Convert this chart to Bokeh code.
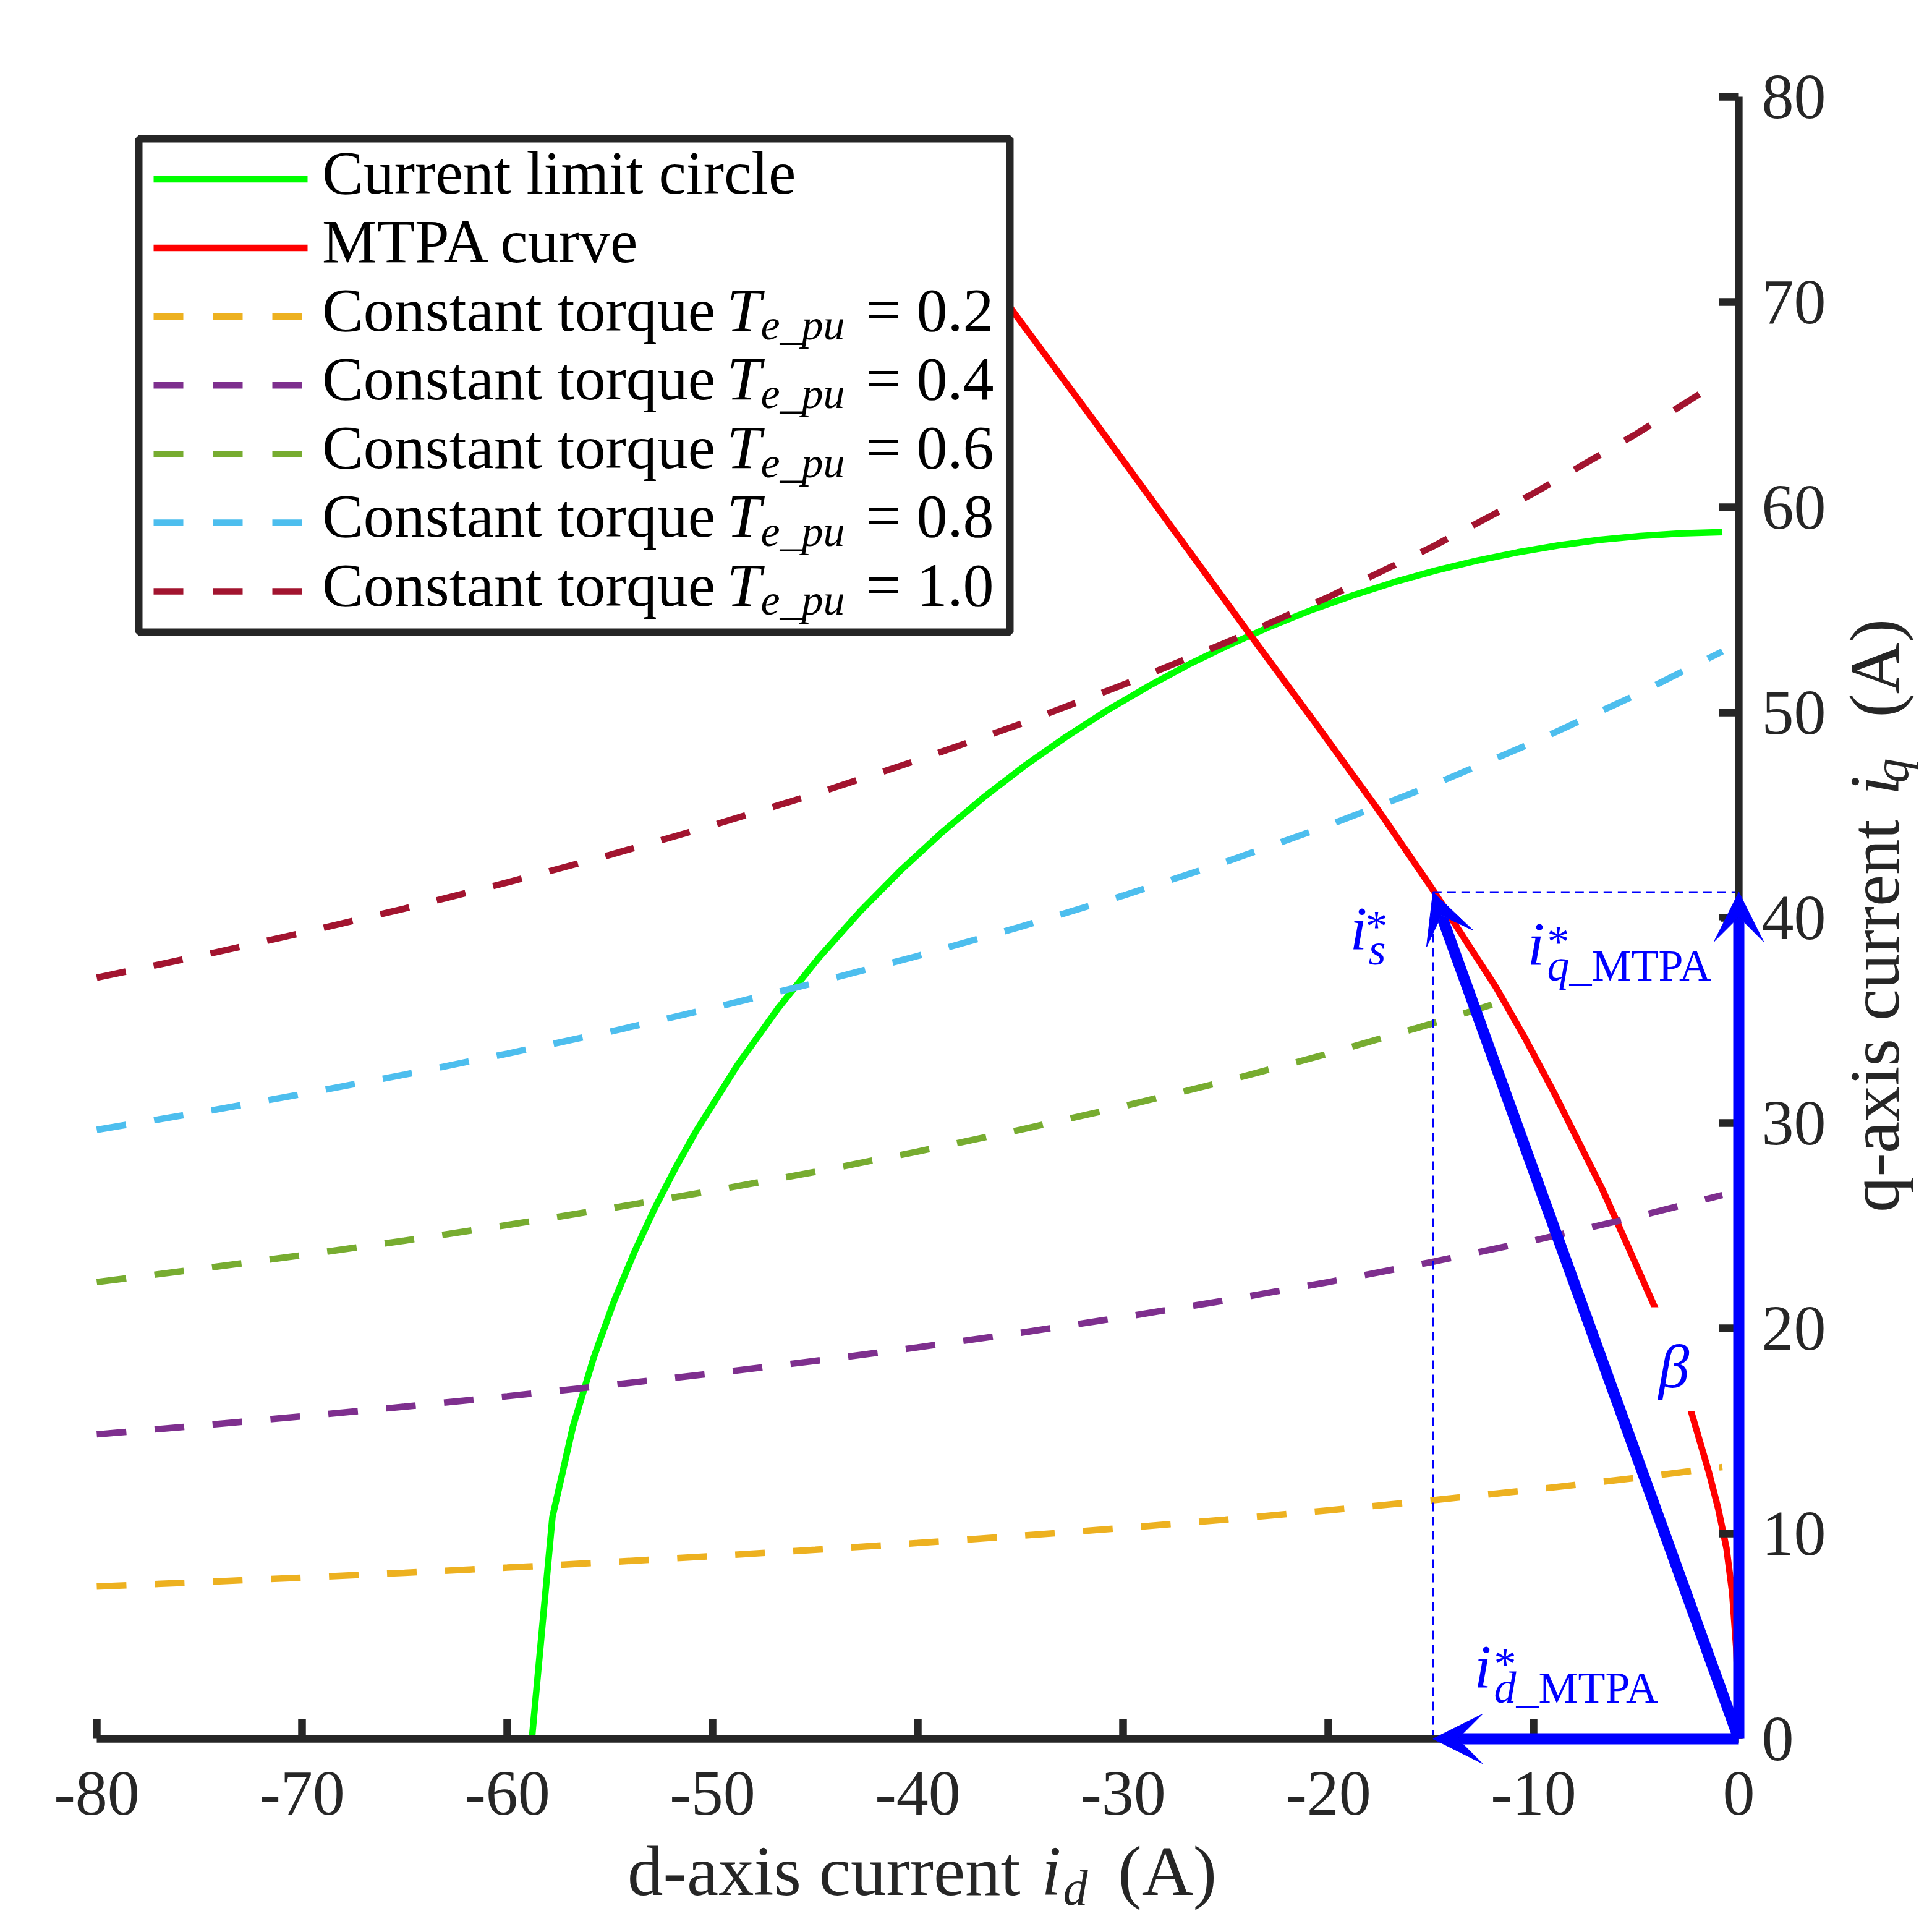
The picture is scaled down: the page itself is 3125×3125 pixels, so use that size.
import numpy as np
from bokeh.plotting import figure
from bokeh.models import (Range1d, FixedTicker, Label, BoxAnnotation, Arrow, VeeHead,
                          CustomJSTickFormatter)
from bokeh.embed import file_html
from bokeh.resources import INLINE

# ---------------- data ----------------
circle_id = [-58.8, -57.8, -56.8, -55.8, -54.8, -53.8, -52.8, -51.8, -50.8, -48.8, -46.8,
             -44.8, -42.8, -40.8, -38.8, -36.8, -34.8, -32.8, -30.8, -28.8, -26.8, -24.8,
             -22.8, -20.8, -18.8, -16.8, -14.8, -12.8, -10.8, -8.8, -6.8, -4.8, -2.8, -0.8]
circle_iq = [0.0, 10.80, 15.21, 18.54, 21.32, 23.73, 25.88, 27.82, 29.61, 32.80, 35.60,
             38.08, 40.32, 42.34, 44.18, 45.86, 47.40, 48.80, 50.09, 51.26, 52.34, 53.31,
             54.20, 55.00, 55.71, 56.35, 56.91, 57.39, 57.80, 58.14, 58.41, 58.60, 58.73, 58.79]

mtpa_id = [0.0, -0.03, -0.13, -0.32, -0.60, -1.00, -1.45, -2.35, -3.18, -4.06, -5.36, -6.66,
           -7.81, -8.96, -10.45, -11.84, -13.38, -14.92, -17.60, -20.68, -23.86, -27.44,
           -31.40, -35.30, -39.50]
mtpa_iq = [0.0, 2.0, 4.5, 7.12, 9.28, 11.2, 12.96, 16.04, 18.4, 20.95, 23.9, 26.8,
           29.1, 31.4, 34.2, 36.63, 39.0, 41.39, 45.3, 49.55, 53.86, 58.77,
           64.2, 69.46, 75.3]

torque_id = [-80, -75, -70, -65, -60, -55, -50, -45, -40, -35, -30, -25, -20, -15, -10, -5, -0.8]
torque_02 = [7.42, 7.63, 7.85, 8.09, 8.34, 8.61, 8.90, 9.21, 9.54, 9.89, 10.27, 10.68, 11.13, 11.61, 12.14, 12.71, 13.24]
torque_04 = [14.83, 15.26, 15.71, 16.18, 16.69, 17.23, 17.80, 18.41, 19.07, 19.78, 20.54, 21.36, 22.25, 23.22, 24.27, 25.43, 26.49]
torque_06 = [22.25, 22.89, 23.56, 24.27, 25.03, 25.84, 26.70, 27.62, 28.61, 29.67, 30.81, 32.04, 33.38, 34.83, 36.41, 38.14, 39.73]
torque_08 = [29.67, 30.51, 31.41, 32.36, 33.38, 34.45, 35.60, 36.83, 38.14, 39.56, 41.08, 42.72, 44.50, 46.43, 48.55, 50.86, 52.98]
torque_10 = [37.08, 38.14, 39.26, 40.45, 41.72, 43.06, 44.50, 46.03, 47.68, 49.44, 51.35, 53.40, 55.62, 58.04, 60.68, 63.57, 66.22]
torque_levels = ["0.2", "0.4", "0.6", "0.8", "1.0"]

id_star = -14.9   # i_d* MTPA
iq_star = 41.25   # i_q* MTPA

x_ticks = [-80, -70, -60, -50, -40, -30, -20, -10, 0]
x_tick_labels = ["-80", "-70", "-60", "-50", "-40", "-30", "-20", "-10", "0"]
y_ticks = [0, 10, 20, 30, 40, 50, 60, 70, 80]
y_tick_labels = ["0", "10", "20", "30", "40", "50", "60", "70", "80"]

# ---------------- styling / layout ----------------
FONT = "Liberation Serif"
AX = "#262626"
BLUE = "#0000FF"
torque_colors = ["#EDB120", "#7E2F8E", "#77AC30", "#4DBEEE", "#A2142F"]
LW = 10.5
DASH = "48 46"

CANVAS = 3110            # the frame fills the whole canvas; axes sit at fixed locations
PXU = 2656 / 80.0        # pixels per data unit
AX_LEFT_PX = 156.0       # image px of id = -80
AX_BOTTOM_PX = 2812.0    # image px of iq = 0
X_START = -80 - AX_LEFT_PX / PXU
Y_END = AX_BOTTOM_PX / PXU
BASE_K = 0.34            # Label baseline correction (fraction of font size)


def dx(px):
    return -80 + (px - AX_LEFT_PX) / PXU


def dy(py):
    return (AX_BOTTOM_PX - py) / PXU


p = figure(frame_width=CANVAS, frame_height=CANVAS,
           x_range=Range1d(X_START, X_START + CANVAS / PXU),
           y_range=Range1d(Y_END - CANVAS / PXU, Y_END),
           y_axis_location="right", output_backend="svg", toolbar_location=None,
           min_border=0, min_border_left=0, min_border_top=0,
           min_border_right=0, min_border_bottom=0)
p.outline_line_color = None
p.grid.visible = False
p.background_fill_color = "white"
p.border_fill_color = "white"

for ax in (p.xaxis[0], p.yaxis[0]):
    ax.fixed_location = 0
    ax.axis_line_width = 12.3
    ax.axis_line_color = AX
    ax.major_tick_in = 32
    ax.major_tick_out = 0
    ax.major_tick_line_width = 12.5
    ax.major_tick_line_color = AX
    ax.minor_tick_line_color = None
    ax.major_label_text_font = FONT
    ax.major_label_text_font_size = "104px"
    ax.major_label_text_color = AX

FMT_CODE = "const i = tvals.indexOf(tick); return i >= 0 ? tlabs[i] : '';"
p.xaxis[0].bounds = (x_ticks[0], x_ticks[-1])
p.xaxis[0].ticker = FixedTicker(ticks=x_ticks)
p.xaxis[0].formatter = CustomJSTickFormatter(args=dict(tvals=x_ticks, tlabs=x_tick_labels), code=FMT_CODE)
p.xaxis[0].major_label_standoff = 54
p.yaxis[0].bounds = (y_ticks[0], y_ticks[-1])
p.yaxis[0].ticker = FixedTicker(ticks=y_ticks)
p.yaxis[0].formatter = CustomJSTickFormatter(args=dict(tvals=y_ticks, tlabs=y_tick_labels), code=FMT_CODE)
p.yaxis[0].major_label_standoff = 37

# ---------------- curves ----------------
p.line(circle_id, circle_iq, line_color="#00FF00", line_width=LW)
p.line(mtpa_id, mtpa_iq, line_color="#FF0000", line_width=LW)
for vals, col in zip([torque_02, torque_04, torque_06, torque_08, torque_10], torque_colors):
    p.line(torque_id, vals, line_color=col, line_width=LW, line_dash=DASH)

# thin projection lines
p.line([id_star, id_star], [0, iq_star], line_color=BLUE, line_width=3, line_dash="14 9")
p.line([id_star, 0], [iq_star, iq_star], line_color=BLUE, line_width=3, line_dash="14 9")

# white text backgrounds
p.add_layout(BoxAnnotation(left=dx(2455), right=dx(2783), top=dy(1488), bottom=dy(1616),
                           fill_color="white", fill_alpha=1.0, line_alpha=0.0))
p.add_layout(BoxAnnotation(left=dx(2652), right=dx(2758), top=dy(2114), bottom=dy(2282),
                           fill_color="white", fill_alpha=1.0, line_alpha=0.0))

# arrows
def vee():
    return VeeHead(size=80, fill_color=BLUE, line_color=BLUE, line_width=1)


p.add_layout(Arrow(end=vee(), x_start=0, y_start=0, x_end=id_star, y_end=iq_star,
                   line_color=BLUE, line_width=18))
p.add_layout(Arrow(end=vee(), x_start=0, y_start=0, x_end=0, y_end=iq_star,
                   line_color=BLUE, line_width=18))
p.add_layout(Arrow(end=vee(), x_start=0, y_start=0, x_end=id_star, y_end=0,
                   line_color=BLUE, line_width=18))

# ---------------- legend box and swatches (drawn by hand) ----------------
p.add_layout(BoxAnnotation(left=dx(224), right=dx(1633), top=dy(224), bottom=dy(1022),
                           fill_color="white", fill_alpha=1.0,
                           line_color=AX, line_alpha=1.0, line_width=12))
row_c = [289.4 + k * 111.1 for k in range(7)]
sw_colors = ["#00FF00", "#FF0000"] + torque_colors
for k, (rc, col) in enumerate(zip(row_c, sw_colors)):
    p.line([dx(248), dx(497)], [dy(rc), dy(rc)], line_color=col, line_width=LW,
           line_dash="solid" if k < 2 else "48 48", level="overlay")

# ---------------- texts ----------------
upright = []
italic = []


def lab(text, px, py, size, style="normal", align="left", color="#000000", rotated=False):
    # (px, py) is the wanted baseline point in image pixels
    if rotated:
        px = px - BASE_K * size
    else:
        py = py - BASE_K * size
    lbl = Label(x=dx(px), y=dy(py), text=text, text_font=FONT,
                text_font_size=f"{size}px", text_font_style=style,
                text_align=align, text_baseline="alphabetic",
                text_color=color, angle=np.pi / 2 if rotated else 0.0)
    (italic if style == "italic" else upright).append(lbl)


# vector labels
lab("i", 2183, 1535, 100, "italic", color=BLUE)
lab("*", 2208, 1522, 72, color=BLUE)
lab("s", 2213, 1560, 72, "italic", color=BLUE)

lab("i", 2470, 1560, 100, "italic", color=BLUE)
lab("*", 2502, 1547, 72, color=BLUE)
lab("q", 2502, 1586, 72, "italic", color=BLUE)
lab("_MTPA", 2538, 1586, 72, color=BLUE)

lab("i", 2384, 2729, 100, "italic", color=BLUE)
lab("*", 2416, 2715, 72, color=BLUE)
lab("d", 2416, 2754, 72, "italic", color=BLUE)
lab("_MTPA", 2452, 2754, 72, color=BLUE)

lab("β", 2707, 2244, 100, "italic", align="center", color=BLUE)

# legend texts
lab("Current limit circle", 520.6, row_c[0] + 23.5, 100)
lab("MTPA curve", 520.6, row_c[1] + 23.5, 100)
for k, lvl in enumerate(torque_levels):
    rc = row_c[k + 2]
    lab("Constant torque", 520.6, rc + 23.5, 100)
    lab("T", 1175, rc + 23.5, 100, "italic")
    lab("e_pu", 1230, rc + 37.5, 70, "italic")
    lab("= " + lvl, 1607, rc + 23.5, 100, align="right")

# axis titles
lab("d-axis current", 1650, 3065, 115, color=AX, align="right")
lab("i", 1684, 3065, 115, "italic", color=AX)
lab("d", 1719, 3081, 80, "italic", color=AX)
lab("(A)", 1808, 3065, 115, color=AX)

lab("q-axis current", 3071, 1325, 115, color=AX, align="right", rotated=True)
lab("i", 3071, 1286, 115, "italic", color=AX, rotated=True)
lab("q", 3086, 1266, 80, "italic", color=AX, rotated=True)
lab("(A)", 3071, 1160, 115, color=AX, rotated=True)

for lbl in upright + italic:
    p.add_layout(lbl)

open("out.html", "w").write(file_html(p, INLINE))
